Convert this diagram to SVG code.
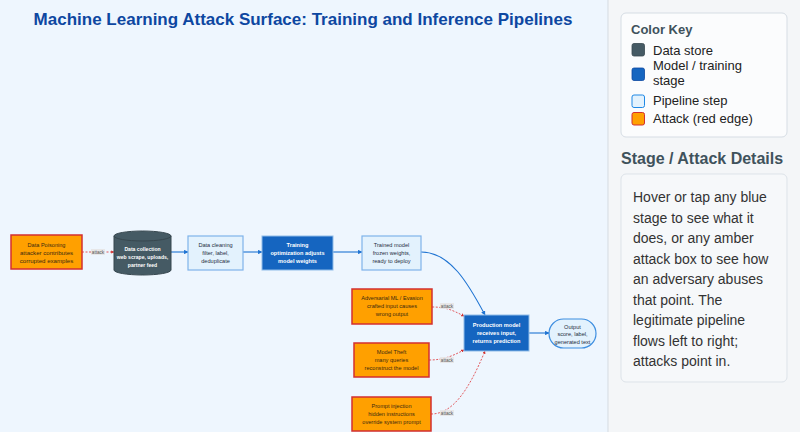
<svg xmlns="http://www.w3.org/2000/svg" width="800" height="432" viewBox="0 0 800 432">
<defs>
<style>
text{font-family:"Liberation Sans",Arial,sans-serif}
.title{font-size:17px;font-weight:bold;fill:#0d47a1;text-anchor:middle}
.atk rect{fill:#ffa000;stroke:#d32f2f;stroke-width:1.5}
.atk text{font-size:5.6px;fill:#3b2a10;text-anchor:middle}
.step rect{fill:#e3f2fd;stroke:#7fb3ea;stroke-width:1.2}
.step text{font-size:5.6px;fill:#1f2d3d;text-anchor:middle}
.model rect{fill:#1565c0;stroke:#8fbce8;stroke-width:1}
.model text{font-size:5.6px;fill:#fff;font-weight:bold;text-anchor:middle}
.store text{font-size:5.1px;fill:#fff;font-weight:bold;text-anchor:middle}
.flow{fill:none;stroke:#1e73d2;stroke-width:1.1;marker-end:url(#ab)}
.att{fill:none;stroke:#e0474c;stroke-width:0.9;stroke-dasharray:2 1.5;marker-end:url(#ar)}
.lbl rect{fill:#e6e6e6;opacity:0.9}
.lbl text{font-size:4.6px;fill:#555;text-anchor:middle}
.key{font-size:13px;fill:#222}
.det{font-size:14px;fill:#333}
.side-h{font-weight:bold;fill:#3f525c}
</style>
<marker id="ab" viewBox="0 0 10 10" refX="9" refY="5" markerWidth="4" markerHeight="4" orient="auto"><path d="M0,0L10,5L0,10z" fill="#1e73d2"/></marker>
<marker id="ar" viewBox="0 0 10 10" refX="9" refY="5" markerWidth="3.5" markerHeight="3.5" orient="auto"><path d="M0,0L10,5L0,10z" fill="#d32f2f"/></marker>
</defs>
<rect x="0" y="0" width="608" height="432" fill="#eef6fe"/>
<rect x="608" y="0" width="192" height="432" fill="#f4f6f8"/>
<line x1="608" y1="0" x2="608" y2="432" stroke="#d5dbe1" stroke-width="1"/>
<text class="title" x="303" y="25">Machine Learning Attack Surface: Training and Inference Pipelines</text>

<g id="connectors">
<path class="att" d="M82,252 L114,252"/>
<path class="flow" d="M171,252 L188,252"/>
<path class="flow" d="M243,252 L262,252"/>
<path class="flow" d="M333,252 L362,252"/>
<path class="flow" d="M421,252 C450,252 468,283 485,315"/>
<path class="flow" d="M529,333 L549,333"/>
<path class="att" d="M432,307 C446,307 452,310 464,316"/>
<path class="att" d="M429,360 C445,360 454,355 464,350"/>
<path class="att" d="M431,414 C452,414 468,392 485,351"/>
<g class="lbl"><rect x="91" y="249" width="14" height="6"/><text x="98" y="253.6">attack</text></g>
<g class="lbl"><rect x="440" y="303" width="14" height="6"/><text x="447" y="307.6">attack</text></g>
<g class="lbl"><rect x="440" y="357" width="14" height="6"/><text x="447" y="361.6">attack</text></g>
<g class="lbl"><rect x="440" y="410" width="14" height="6"/><text x="447" y="414.6">attack</text></g>
</g>

<g id="poison" class="atk"><rect x="11" y="235" width="71" height="34"/>
<text x="46.5" y="246.5">Data Poisoning</text>
<text x="46.5" y="255" style="font-size:6.1px">attacker contributes</text>
<text x="46.5" y="263.3" style="font-size:6.1px">corrupted examples</text></g>

<g id="collect" class="store">
<path d="M114,236 L114,270 A28.5,5 0 0 0 171,270 L171,236 A28.5,5 0 0 0 114,236 Z" fill="#455a64" stroke="#37474f" stroke-width="1"/>
<path d="M114,236 A28.5,5 0 0 0 171,236" fill="none" stroke="#37474f" stroke-width="1"/>
<text x="142.5" y="251">Data collection</text>
<text x="142.5" y="259">web scrape, uploads,</text>
<text x="142.5" y="267">partner feed</text></g>

<g id="clean" class="step"><rect x="188" y="236" width="55" height="34"/>
<text x="215.5" y="246.5">Data cleaning</text>
<text x="215.5" y="254.5">filter, label,</text>
<text x="215.5" y="262.5">deduplicate</text></g>

<g id="train" class="model"><rect x="262" y="236" width="71" height="34"/>
<text x="297.5" y="246.5">Training</text>
<text x="297.5" y="254.5">optimization adjusts</text>
<text x="297.5" y="262.5">model weights</text></g>

<g id="trained" class="step"><rect x="362" y="236" width="59" height="34"/>
<text x="391.5" y="246.5">Trained model</text>
<text x="391.5" y="254.5">frozen weights,</text>
<text x="391.5" y="262.5">ready to deploy</text></g>

<g id="prod" class="model"><rect x="464" y="315" width="65" height="36"/>
<text x="496.5" y="327">Production model</text>
<text x="496.5" y="335">receives input,</text>
<text x="496.5" y="343">returns prediction</text></g>

<g id="output" class="step"><rect x="549" y="319" width="47" height="29" rx="14.5" style="stroke:#3d8ee0"/>
<text x="572.5" y="328.5">Output</text>
<text x="572.5" y="336">score, label,</text>
<text x="572.5" y="343.5">generated text</text></g>

<g id="evasion" class="atk"><rect x="352" y="289" width="80" height="35"/>
<text x="392" y="300">Adversarial ML / Evasion</text>
<text x="392" y="308">crafted input causes</text>
<text x="392" y="316">wrong output</text></g>

<g id="theft" class="atk"><rect x="354" y="343" width="75" height="34"/>
<text x="391.5" y="354">Model Theft</text>
<text x="391.5" y="362">many queries</text>
<text x="391.5" y="370">reconstruct the model</text></g>

<g id="prompt" class="atk"><rect x="352" y="397" width="79" height="34"/>
<text x="391.5" y="408">Prompt injection</text>
<text x="391.5" y="416">hidden instructions</text>
<text x="391.5" y="424">override system prompt</text></g>

<g id="colorkey">
<rect x="621" y="13" width="166" height="124" rx="5" fill="#fbfcfd" stroke="#d6dde4"/>
<text class="side-h" x="631" y="34" style="font-size:13px">Color Key</text>
<rect x="632" y="43.5" width="12.5" height="12.5" rx="2" fill="#455a64" stroke="#37474f" stroke-width="0.8"/>
<text class="key" x="653" y="55">Data store</text>
<rect x="632" y="68" width="12.5" height="12.5" rx="2" fill="#1565c0" stroke="#0d47a1" stroke-width="0.8"/>
<text class="key" x="653" y="70">Model / training</text>
<text class="key" x="653" y="85">stage</text>
<rect x="632" y="95" width="12.5" height="12.5" rx="2" fill="#e3f2fd" stroke="#1e88e5" stroke-width="1"/>
<text class="key" x="653" y="105">Pipeline step</text>
<rect x="632" y="112.5" width="12.5" height="12.5" rx="2" fill="#ffa000" stroke="#d32f2f" stroke-width="1"/>
<text class="key" x="653" y="123">Attack (red edge)</text>
</g>

<g id="details">
<text class="side-h" x="621" y="164" style="font-size:16px">Stage / Attack Details</text>
<rect x="621" y="174" width="166" height="208" rx="5" fill="#f6f8fa" stroke="#dde3e9"/>
<text class="det" x="633" y="202">Hover or tap any blue</text>
<text class="det" x="633" y="222.5">stage to see what it</text>
<text class="det" x="633" y="243">does, or any amber</text>
<text class="det" x="633" y="263.5">attack box to see how</text>
<text class="det" x="633" y="284">an adversary abuses</text>
<text class="det" x="633" y="304.5">that point. The</text>
<text class="det" x="633" y="325">legitimate pipeline</text>
<text class="det" x="633" y="345.5">flows left to right;</text>
<text class="det" x="633" y="366">attacks point in.</text>
</g>
</svg>
